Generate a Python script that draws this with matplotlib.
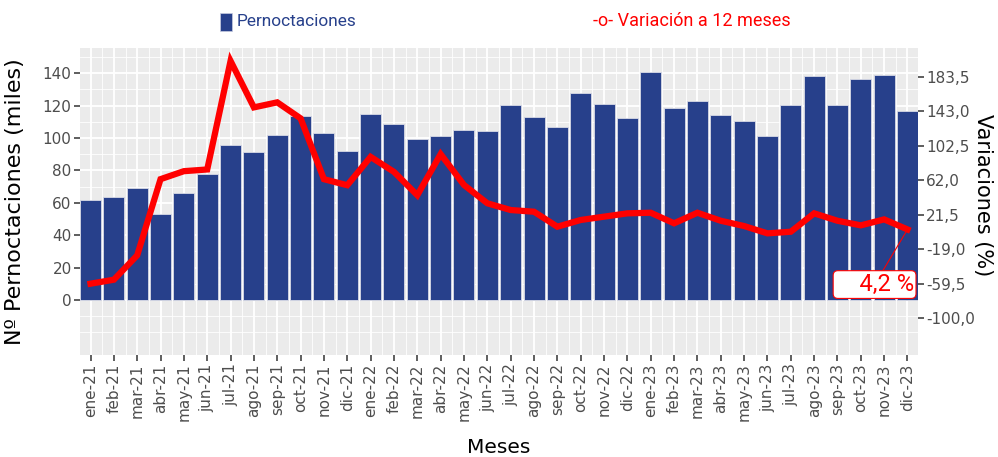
import matplotlib
matplotlib.use("Agg")
import matplotlib.pyplot as plt
import numpy as np
from matplotlib import rcParams

rcParams['font.family'] = 'DejaVu Sans'

# datos
meses = ['ene-21', 'feb-21', 'mar-21', 'abr-21', 'may-21', 'jun-21', 'jul-21', 'ago-21',
         'sep-21', 'oct-21', 'nov-21', 'dic-21', 'ene-22', 'feb-22', 'mar-22', 'abr-22',
         'may-22', 'jun-22', 'jul-22', 'ago-22', 'sep-22', 'oct-22', 'nov-22', 'dic-22',
         'ene-23', 'feb-23', 'mar-23', 'abr-23', 'may-23', 'jun-23', 'jul-23', 'ago-23',
         'sep-23', 'oct-23', 'nov-23', 'dic-23']
pernoctaciones = [61.5, 63.8, 69.0, 53.1, 66.3, 77.9, 95.4, 91.5, 101.6, 113.8, 103.3, 92.1,
                  115.0, 108.4, 99.3, 101.4, 104.7, 104.1, 120.2, 113.2, 107.0, 127.8, 121.2, 112.1,
                  140.8, 118.8, 122.7, 114.0, 110.3, 101.2, 120.2, 138.0, 120.4, 136.7, 139.0, 116.9]
variacion = [-59.5, -54.8, -26.2, 63.2, 72.6, 74.6, 202.0, 147.5, 153.4, 134.6, 63.2, 56.1,
             89.4, 71.8, 44.4, 92.6, 56.4, 34.9, 27.0, 25.0, 7.4, 15.3, 19.2, 23.1,
             23.8, 11.4, 23.8, 14.4, 8.2, -0.4, 1.5, 23.1, 14.4, 9.0, 16.0, 4.2]
ticks_izq = [0, 20, 40, 60, 80, 100, 120, 140]
ticks_der = [-100.0, -59.5, -19.0, 21.5, 62.0, 102.5, 143.0, 183.5]

azul = '#27408B'
rojo = '#FF0000'
gris_txt = '#4D4D4D'

fig = plt.figure(figsize=(9.98, 4.57), dpi=100)
ax = fig.add_axes([80/998, 1-355/457, 838/998, 307/457])
ax.set_facecolor('#EBEBEB')

x = np.arange(len(meses))
ax.bar(x, pernoctaciones, width=0.9, color=azul, edgecolor='#D8DAE6', linewidth=0.6, zorder=3)

ax.set_xlim(-0.45, len(meses) - 0.55)
ax.set_ylim(-34, 155.6)
ax.set_yticks(ticks_izq)
ax.set_yticks([-20, -10, 10, 30, 50, 70, 90, 110, 130, 150], minor=True)
ax.set_xticks(x)
ax.set_xticks(x[:-1] + 0.5, minor=True)
ax.set_xticklabels(meses, rotation=90)
ax.grid(which='major', color='white', linewidth=1.3, zorder=0)
ax.grid(which='minor', color='white', linewidth=0.6, zorder=0)
ax.set_axisbelow(True)
for s in ax.spines.values():
    s.set_visible(False)
ax.tick_params(which='major', length=4, width=1.1, color='#333333', labelcolor=gris_txt,
               labelsize=11, pad=2)
ax.tick_params(which='minor', length=0)

ax.set_ylabel('Nº Pernoctaciones (miles)', fontsize=16, color='black')
ax.yaxis.set_label_coords(-0.066, 0.5)
ax.xaxis.label.set_va('center')
ax.set_xlabel('Meses', fontsize=14.5, color='black')
ax.xaxis.set_label_coords(0.5, -0.30)

# eje secundario
ax2 = ax.twinx()
ax2.set_ylim(-143.2, 217.2)
ax2.plot(x, variacion, color=rojo, linewidth=4.5, solid_joinstyle='miter', zorder=5)
ax2.set_yticks(ticks_der)
ax2.set_yticklabels([f'{v:.1f}'.replace('.', ',') for v in ticks_der])
for s in ax2.spines.values():
    s.set_visible(False)
ax2.tick_params(length=4, width=1.1, color='#333333', labelcolor=gris_txt, labelsize=11, pad=2)
ax2.set_ylabel('Variaciones (%)', fontsize=15, rotation=-90, color='black')
ax2.yaxis.set_label_coords(1.0776, 0.52)
ax2.yaxis.label.set_va('center')

ultimo = variacion[-1]
ax2.annotate('    ' + f'{ultimo:.1f}'.replace('.', ',') + ' %', xy=(x[-1], ultimo),
             xytext=(x[-1] - 1.41, -60.5), ha='center', va='center',
             fontsize=17, color=rojo, family='Roboto',
             bbox=dict(boxstyle='round,pad=0.1,rounding_size=0.2', fc='white', ec=rojo, lw=0.8),
             arrowprops=dict(arrowstyle='-', color=rojo, lw=0.8, shrinkA=0, shrinkB=2),
             zorder=6)

# leyenda superior
fig.patches.append(plt.Rectangle((220/998, 1-31/457), 12/998, 18/457, transform=fig.transFigure,
                                 facecolor=azul, edgecolor='#C8CCE0', lw=0.5))
fig.text(237/998, 1-21/457, 'Pernoctaciones', color=azul, fontsize=12.4, va='center',
         family='Roboto')
fig.text(593/998, 1-21/457, '-o- Variación a 12 meses', color=rojo, fontsize=13, va='center',
         family='Roboto')

fig.savefig('out.png', dpi=100)
